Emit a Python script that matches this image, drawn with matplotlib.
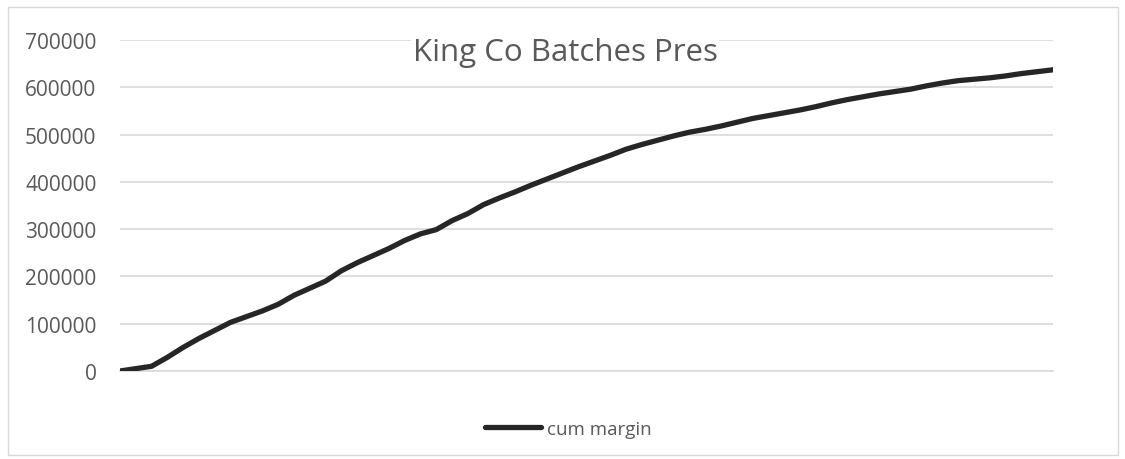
import matplotlib.pyplot as plt
import matplotlib.patches as mpatches
import numpy as np

# cumulative margin, one value per batch
cum_margin = [
    0, 5000, 10000, 29000, 50000, 69000, 86000, 103000, 115000, 127000,
    141000, 160000, 175000, 190000, 212000, 229000, 244000, 259000, 276000, 290000,
    299000, 318000, 333000, 352000, 366000, 379000, 393000, 406000, 419000, 432000,
    444000, 456000, 469000, 479000, 488000, 497000, 505000, 511000, 518000, 526000,
    534000, 540000, 546000, 552000, 559000, 567000, 574000, 580000, 586000, 591000,
    596000, 603000, 609000, 614000, 617000, 620000, 624000, 629000, 633000, 637000,
]
y_ticks = [0, 100000, 200000, 300000, 400000, 500000, 600000, 700000]
title = "King Co Batches Pres"
series_name = "cum margin"

text_color = "#595959"
grid_color = "#d9d9d9"
line_color = "#262626"
font = ["Open Sans", "DejaVu Sans"]

fig = plt.figure(figsize=(11.25, 4.6), dpi=100)
ax = fig.add_axes([120 / 1125, 1 - 372 / 460, 933 / 1125, 331 / 460])

x = np.arange(len(cum_margin))
ax.plot(x, cum_margin, color=line_color, linewidth=3.8,
        solid_capstyle="round", solid_joinstyle="round", label=series_name,
        zorder=3)

ax.set_xlim(0, len(cum_margin) - 1)
ax.set_ylim(0, 700000)
ax.set_yticks(y_ticks)
ax.set_yticklabels([str(v) for v in y_ticks], fontsize=15,
                   color=text_color, family=font)
ax.set_xticks([])
ax.tick_params(axis="y", length=0, pad=17)
ax.yaxis.grid(True, color=grid_color, linewidth=1.2)
ax.set_axisbelow(True)
for side in ["left", "right", "top"]:
    ax.spines[side].set_visible(False)
ax.spines["bottom"].set_color(grid_color)
ax.spines["bottom"].set_linewidth(1.2)

fig.text(565 / 1125, 1 - 53 / 460, title, fontsize=22.5, color=text_color,
         family=font, ha="center", va="center", zorder=5,
         bbox=dict(facecolor="white", edgecolor="none", pad=1))

leg = fig.legend(loc="center", bbox_to_anchor=(568 / 1125, 1 - 430 / 460),
                 frameon=False, handlelength=3.0, handletextpad=0.3,
                 prop={"family": font, "size": 13.5})
for t in leg.get_texts():
    t.set_color(text_color)

# chart area border
fig.patches.append(mpatches.Rectangle((8 / 1125, 4 / 460), 1110 / 1125, 448 / 460,
                                      transform=fig.transFigure, fill=False,
                                      edgecolor="#d9d9d9", linewidth=1))

fig.savefig("out.png", dpi=100)
